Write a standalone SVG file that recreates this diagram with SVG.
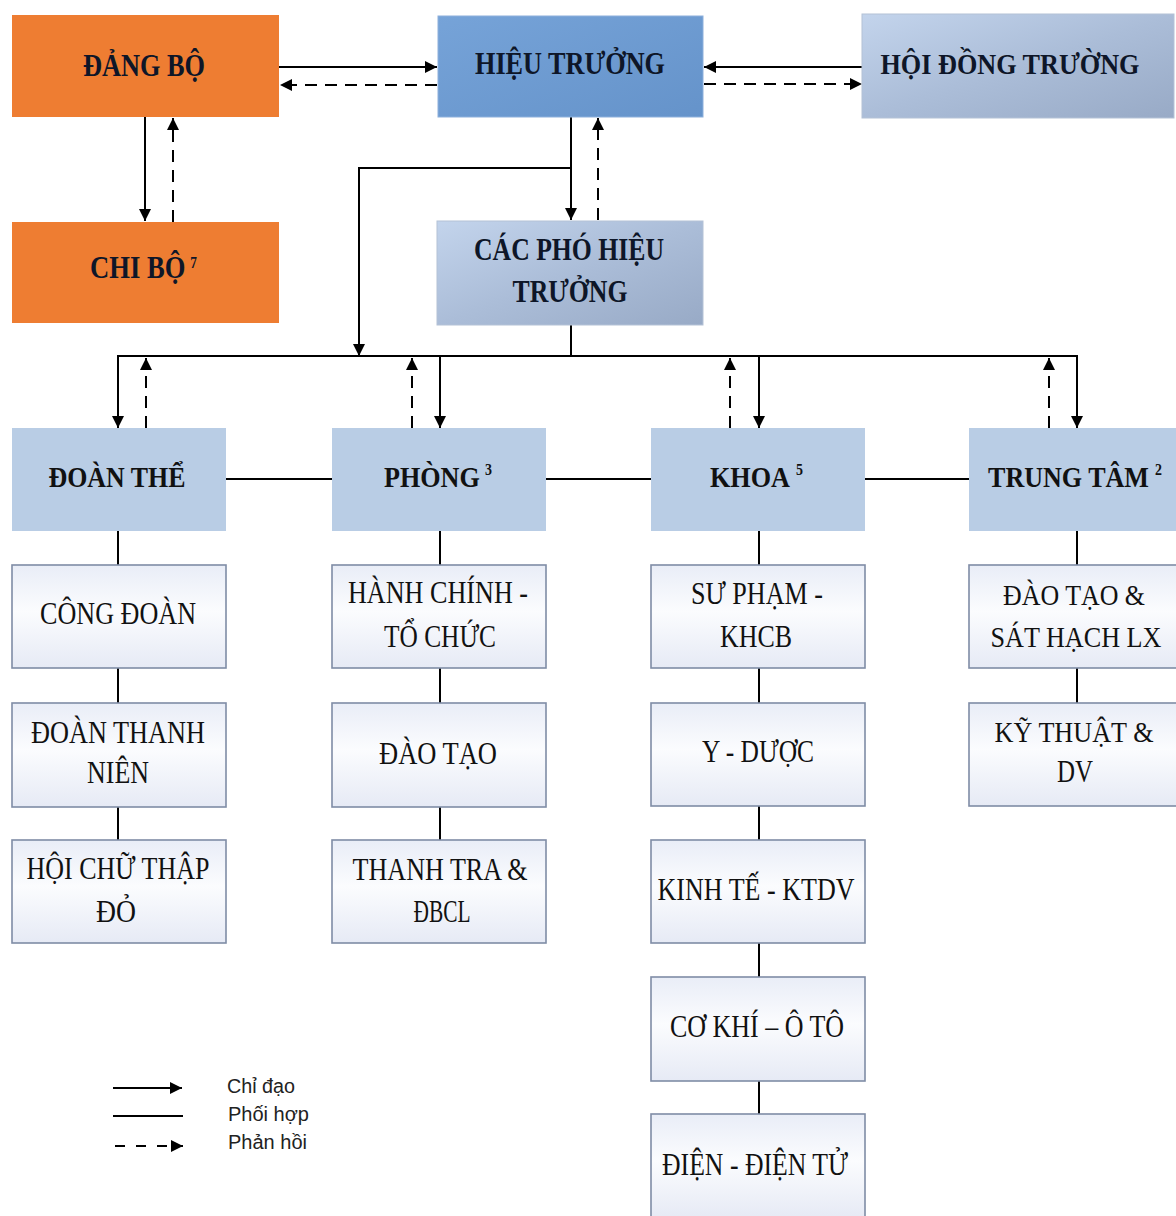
<svg xmlns="http://www.w3.org/2000/svg" width="1176" height="1216" viewBox="0 0 1176 1216">
<defs>
  <linearGradient id="gHT" x1="0" y1="0" x2="1" y2="1">
    <stop offset="0" stop-color="#76A3D8"/>
    <stop offset="1" stop-color="#6593CA"/>
  </linearGradient>
  <linearGradient id="gGray" x1="0" y1="0" x2="1" y2="1">
    <stop offset="0" stop-color="#C3D4EC"/>
    <stop offset="0.5" stop-color="#ABBDD8"/>
    <stop offset="1" stop-color="#98AAC6"/>
  </linearGradient>
  <linearGradient id="gLeaf" x1="0" y1="0" x2="0" y2="1">
    <stop offset="0" stop-color="#E9EDF7"/>
    <stop offset="0.45" stop-color="#FBFCFE"/>
    <stop offset="1" stop-color="#E6EAF5"/>
  </linearGradient>
  <marker id="ah" viewBox="0 0 12 12" refX="12" refY="6" markerWidth="12" markerHeight="12" markerUnits="userSpaceOnUse" orient="auto">
    <path d="M0,0 L12,6 L0,12 z" fill="#000"/>
  </marker>
  <style>
    .orange{fill:#EE7D32}
    .ht{fill:url(#gHT);stroke:#8DB0DC;stroke-width:1}
    .gray{fill:url(#gGray);stroke:#B4C2D6;stroke-width:1}
    .lvl2{fill:#B9CDE5}
    .leaf{fill:url(#gLeaf);stroke:#7F8CA6;stroke-width:1.6}
    .tb{font-family:"Liberation Serif","Times New Roman",serif;font-weight:bold;font-size:32px;fill:#0E1628}
    .t2{font-family:"Liberation Serif","Times New Roman",serif;font-weight:bold;font-size:30px;fill:#111}
    .t3{font-family:"Liberation Serif","Times New Roman",serif;font-size:32px;fill:#111}
    .sup{font-family:"Liberation Serif","Times New Roman",serif;font-weight:bold;font-size:16px}
    .lg{font-family:"Liberation Sans",Arial,sans-serif;font-size:20px;fill:#222}
    .c{text-anchor:middle}
    .solid{fill:none;stroke:#000;stroke-width:2}
    .dash{fill:none;stroke:#000;stroke-width:2;stroke-dasharray:12,8}
    .arr{marker-end:url(#ah)}
  </style>
</defs>
<rect width="1176" height="1216" fill="#fff"/>

<g id="connectors">
  <line class="solid arr" x1="279" y1="67" x2="437" y2="67"/>
  <line class="dash arr" x1="437" y1="85" x2="280" y2="85"/>
  <line class="solid arr" x1="862" y1="67" x2="704" y2="67"/>
  <line class="dash arr" x1="704" y1="84" x2="862" y2="84"/>
  <line class="solid arr" x1="145" y1="117" x2="145" y2="221"/>
  <line class="dash arr" x1="173" y1="222" x2="173" y2="118"/>
  <line class="solid arr" x1="571" y1="117" x2="571" y2="220"/>
  <line class="dash arr" x1="598" y1="220" x2="598" y2="118"/>
  <path class="solid arr" d="M571,168 H359 V356"/>
  <line class="solid" x1="571" y1="325" x2="571" y2="356"/>
  <line class="solid" x1="117" y1="356" x2="1078" y2="356"/>
  <line class="solid arr" x1="118" y1="356" x2="118" y2="428"/>
  <line class="solid arr" x1="440" y1="356" x2="440" y2="428"/>
  <line class="solid arr" x1="759" y1="356" x2="759" y2="428"/>
  <line class="solid arr" x1="1077" y1="356" x2="1077" y2="428"/>
  <line class="dash arr" x1="146" y1="428" x2="146" y2="358"/>
  <line class="dash arr" x1="412" y1="428" x2="412" y2="358"/>
  <line class="dash arr" x1="730" y1="428" x2="730" y2="358"/>
  <line class="dash arr" x1="1049" y1="428" x2="1049" y2="358"/>
  <line class="solid" x1="226" y1="479" x2="332" y2="479"/>
  <line class="solid" x1="546" y1="479" x2="651" y2="479"/>
  <line class="solid" x1="865" y1="479" x2="969" y2="479"/>
  <line class="solid" x1="118" y1="531" x2="118" y2="565"/>
  <line class="solid" x1="118" y1="668" x2="118" y2="703"/>
  <line class="solid" x1="118" y1="807" x2="118" y2="840"/>
  <line class="solid" x1="440" y1="531" x2="440" y2="565"/>
  <line class="solid" x1="440" y1="668" x2="440" y2="703"/>
  <line class="solid" x1="440" y1="807" x2="440" y2="840"/>
  <line class="solid" x1="759" y1="531" x2="759" y2="565"/>
  <line class="solid" x1="759" y1="668" x2="759" y2="703"/>
  <line class="solid" x1="759" y1="806" x2="759" y2="840"/>
  <line class="solid" x1="759" y1="943" x2="759" y2="977"/>
  <line class="solid" x1="759" y1="1081" x2="759" y2="1114"/>
  <line class="solid" x1="1077" y1="531" x2="1077" y2="565"/>
  <line class="solid" x1="1077" y1="668" x2="1077" y2="703"/>
</g>

<g id="n-dang-bo">
  <rect class="orange" x="12" y="15" width="267" height="102"/>
  <text class="tb c" x="144" y="76" textLength="122" lengthAdjust="spacingAndGlyphs">ĐẢNG BỘ</text>
</g>
<g id="n-hieu-truong">
  <rect class="ht" x="438" y="16" width="265" height="101"/>
  <text class="tb c" x="570" y="74" textLength="190" lengthAdjust="spacingAndGlyphs">HIỆU TRƯỞNG</text>
</g>
<g id="n-hoi-dong">
  <rect class="gray" x="862" y="14" width="312" height="104"/>
  <text class="tb c" x="1010" y="74" style="font-size:29px" textLength="259" lengthAdjust="spacingAndGlyphs">HỘI ĐỒNG TRƯỜNG</text>
</g>
<g id="n-chi-bo">
  <rect class="orange" x="12" y="222" width="267" height="101"/>
  <text class="tb" x="90" y="278" textLength="107" lengthAdjust="spacingAndGlyphs">CHI BỘ<tspan class="sup" dx="6" dy="-10">7</tspan></text>
</g>
<g id="n-pho-hieu-truong">
  <rect class="gray" x="437" y="221" width="266" height="104"/>
  <text class="tb c" x="569" y="260" textLength="190" lengthAdjust="spacingAndGlyphs">CÁC PHÓ HIỆU</text>
  <text class="tb c" x="570" y="302" textLength="115" lengthAdjust="spacingAndGlyphs">TRƯỞNG</text>
</g>

<g id="n-doan-the">
  <rect class="lvl2" x="12" y="428" width="214" height="103"/>
  <text class="t2 c" x="117" y="487" textLength="137" lengthAdjust="spacingAndGlyphs">ĐOÀN THỂ</text>
</g>
<g id="n-phong">
  <rect class="lvl2" x="332" y="428" width="214" height="103"/>
  <text class="t2" x="384" y="487" textLength="108" lengthAdjust="spacingAndGlyphs">PHÒNG<tspan class="sup" dx="6" dy="-12">3</tspan></text>
</g>
<g id="n-khoa">
  <rect class="lvl2" x="651" y="428" width="214" height="103"/>
  <text class="t2" x="710" y="487" textLength="93" lengthAdjust="spacingAndGlyphs">KHOA<tspan class="sup" dx="7" dy="-12">5</tspan></text>
</g>
<g id="n-trung-tam">
  <rect class="lvl2" x="969" y="428" width="214" height="103"/>
  <text class="t2" x="988" y="487" textLength="174" lengthAdjust="spacingAndGlyphs">TRUNG TÂM<tspan class="sup" dx="7" dy="-12">2</tspan></text>
</g>

<g id="n-cong-doan">
  <rect class="leaf" x="12" y="565" width="214" height="103"/>
  <text class="t3 c" x="118" y="624" textLength="156" lengthAdjust="spacingAndGlyphs">CÔNG ĐOÀN</text>
</g>
<g id="n-doan-thanh-nien">
  <rect class="leaf" x="12" y="703" width="214" height="104"/>
  <text class="t3 c" x="118" y="743" textLength="174" lengthAdjust="spacingAndGlyphs">ĐOÀN THANH</text>
  <text class="t3 c" x="118" y="783" textLength="62" lengthAdjust="spacingAndGlyphs">NIÊN</text>
</g>
<g id="n-chu-thap-do">
  <rect class="leaf" x="12" y="840" width="214" height="103"/>
  <text class="t3 c" x="118" y="879" textLength="183" lengthAdjust="spacingAndGlyphs">HỘI CHỮ THẬP</text>
  <text class="t3 c" x="116" y="922" textLength="40" lengthAdjust="spacingAndGlyphs">ĐỎ</text>
</g>

<g id="n-hanh-chinh">
  <rect class="leaf" x="332" y="565" width="214" height="103"/>
  <text class="t3 c" x="438" y="603" textLength="180" lengthAdjust="spacingAndGlyphs">HÀNH CHÍNH -</text>
  <text class="t3 c" x="440" y="647" textLength="112" lengthAdjust="spacingAndGlyphs">TỔ CHỨC</text>
</g>
<g id="n-dao-tao">
  <rect class="leaf" x="332" y="703" width="214" height="104"/>
  <text class="t3 c" x="438" y="764" textLength="118" lengthAdjust="spacingAndGlyphs">ĐÀO TẠO</text>
</g>
<g id="n-thanh-tra">
  <rect class="leaf" x="332" y="840" width="214" height="103"/>
  <text class="t3 c" x="440" y="880" textLength="175" lengthAdjust="spacingAndGlyphs">THANH TRA &amp;</text>
  <text class="t3 c" x="442" y="922" textLength="57" lengthAdjust="spacingAndGlyphs">ĐBCL</text>
</g>

<g id="n-su-pham">
  <rect class="leaf" x="651" y="565" width="214" height="103"/>
  <text class="t3 c" x="757" y="604" textLength="132" lengthAdjust="spacingAndGlyphs">SƯ PHẠM -</text>
  <text class="t3 c" x="756" y="647" textLength="72" lengthAdjust="spacingAndGlyphs">KHCB</text>
</g>
<g id="n-y-duoc">
  <rect class="leaf" x="651" y="703" width="214" height="103"/>
  <text class="t3 c" x="758" y="762" textLength="112" lengthAdjust="spacingAndGlyphs">Y - DƯỢC</text>
</g>
<g id="n-kinh-te">
  <rect class="leaf" x="651" y="840" width="214" height="103"/>
  <text class="t3 c" x="756" y="900" textLength="197" lengthAdjust="spacingAndGlyphs">KINH TẾ - KTDV</text>
</g>
<g id="n-co-khi">
  <rect class="leaf" x="651" y="977" width="214" height="104"/>
  <text class="t3 c" x="757" y="1037" textLength="174" lengthAdjust="spacingAndGlyphs">CƠ KHÍ – Ô TÔ</text>
</g>
<g id="n-dien">
  <rect class="leaf" x="651" y="1114" width="214" height="104"/>
  <text class="t3 c" x="755" y="1175" textLength="186" lengthAdjust="spacingAndGlyphs">ĐIỆN - ĐIỆN TỬ</text>
</g>

<g id="n-sat-hach">
  <rect class="leaf" x="969" y="565" width="214" height="103"/>
  <text class="t3 c" x="1074" y="605" style="font-size:30px" textLength="142" lengthAdjust="spacingAndGlyphs">ĐÀO TẠO &amp;</text>
  <text class="t3 c" x="1076" y="647" style="font-size:30px" textLength="171" lengthAdjust="spacingAndGlyphs">SÁT HẠCH LX</text>
</g>
<g id="n-ky-thuat">
  <rect class="leaf" x="969" y="703" width="214" height="103"/>
  <text class="t3 c" x="1074" y="742" style="font-size:30px" textLength="159" lengthAdjust="spacingAndGlyphs">KỸ THUẬT &amp;</text>
  <text class="t3 c" x="1075" y="782" textLength="36" lengthAdjust="spacingAndGlyphs">DV</text>
</g>

<g id="legend">
  <line class="solid arr" x1="113" y1="1088" x2="182" y2="1088"/>
  <line class="solid" x1="113" y1="1116" x2="183" y2="1116"/>
  <line class="arr" x1="115" y1="1146" x2="183" y2="1146" stroke="#000" stroke-width="2" stroke-dasharray="10,11"/>
  <text class="lg" x="227" y="1093" textLength="68" lengthAdjust="spacingAndGlyphs">Chỉ đạo</text>
  <text class="lg" x="228" y="1121" textLength="81" lengthAdjust="spacingAndGlyphs">Phối hợp</text>
  <text class="lg" x="228" y="1149" textLength="79" lengthAdjust="spacingAndGlyphs">Phản hồi</text>
</g>
</svg>
